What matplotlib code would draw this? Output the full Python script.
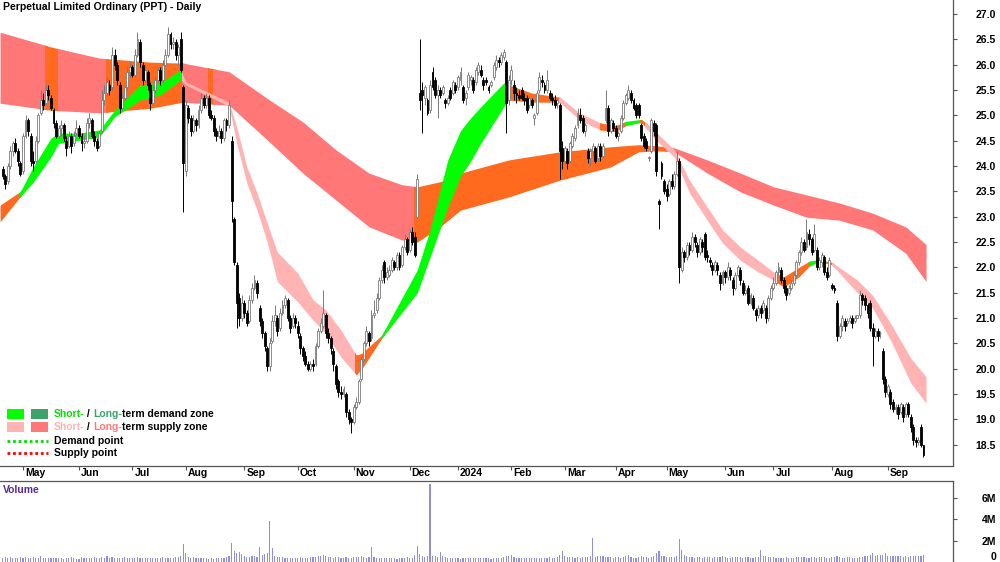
import numpy as np
import matplotlib
matplotlib.use('Agg')
import matplotlib.pyplot as plt
from matplotlib.patches import Rectangle
from matplotlib.transforms import blended_transform_factory

plt.rcParams['font.family'] = ['Liberation Sans', 'DejaVu Sans']

# daily candles, trading-day index 0..362 (Apr 2023 - Sep 2024)
opens = [
    23.95, 23.8, 23.7, 24.0, 24.3, 24.45, 24.3, 24.05, 23.9, 24.6,
    24.9, 24.6, 24.1, 24.1, 24.5, 25.05, 25.3, 25.25, 25.5, 25.35,
    25.1, 24.85, 24.6, 24.75, 24.8, 24.5, 24.4, 24.6, 24.45, 24.65,
    24.75, 24.6, 24.45, 24.5, 24.85, 24.9, 24.6, 24.5, 24.4, 24.7,
    25.3, 25.45, 25.6, 25.55, 26.2, 26.0, 25.6, 25.15, 25.35, 25.55,
    25.85, 25.95, 25.8, 26.2, 26.45, 26.0, 25.7, 25.85, 25.6, 25.25,
    25.5, 25.7, 25.9, 25.7, 26.0, 26.2, 26.6, 26.4, 26.45, 26.2,
    26.5, 25.55, 23.9, 25.15, 24.95, 24.7, 24.9, 24.8, 25.1, 25.35,
    25.2, 25.35, 25.0, 24.95, 24.7, 24.6, 24.7, 24.55, 24.9, 24.8,
    24.5, 22.95, 22.05, 21.4, 21.0, 21.3, 21.1, 20.95, 21.35, 21.6,
    21.7, 21.2, 20.95, 20.7, 20.4, 20.05, 20.55, 20.95, 21.0, 20.8,
    21.1, 21.25, 21.35, 21.0, 20.85, 21.0, 20.85, 20.65, 20.4, 20.25,
    20.1, 20.0, 20.1, 20.1, 20.45, 20.75, 20.85, 21.05, 20.7, 20.6,
    20.35, 20.05, 19.75, 19.55, 19.5, 19.5, 19.15, 19.0, 18.95, 19.25,
    19.35, 19.8, 20.2, 20.5, 20.7, 20.6, 21.05, 21.15, 21.4, 21.75,
    22.1, 21.8, 21.85, 21.95, 22.1, 22.0, 22.25, 22.05, 22.4, 22.55,
    22.35, 22.7, 22.6, 23.0, 25.45, 25.5, 25.35, 25.3, 25.1, 25.85,
    25.7, 25.4, 25.5, 25.45, 25.3, 25.25, 25.5, 25.45, 25.6, 25.55,
    25.7, 25.55, 25.35, 25.55, 25.7, 25.7, 25.65, 25.85, 25.9, 25.7,
    25.7, 25.55, 25.6, 25.75, 25.95, 26.1, 26.05, 26.15, 26.05, 25.3,
    25.7, 25.6, 25.45, 25.4, 25.5, 25.35, 25.35, 25.2, 25.3, 24.95,
    25.05, 25.5, 25.7, 25.6, 25.5, 25.45, 25.35, 25.3, 25.25, 25.2,
    24.35, 24.1, 24.3, 24.1, 24.4, 24.55, 24.8, 25.0, 24.95, 24.7,
    24.3, 24.15, 24.3, 24.35, 24.15, 24.4, 24.2, 24.9, 25.15, 24.7,
    24.85, 24.75, 24.6, 24.7, 24.95, 25.25, 25.35, 25.45, 25.3, 25.2,
    25.2, 24.8, 24.6, 24.5, 24.15, 24.3, 24.85, 24.8, 23.3, 24.05,
    23.7, 23.55, 23.45, 23.7, 23.6, 23.85, 24.1, 21.95, 22.3, 22.2,
    22.45, 22.35, 22.6, 22.45, 22.3, 22.5, 22.65, 22.25, 22.15, 22.05,
    21.95, 22.05, 21.85, 21.7, 21.9, 21.8, 21.95, 21.75, 21.6, 21.85,
    21.95, 21.7, 21.5, 21.6, 21.3, 21.4, 21.15, 21.05, 21.2, 21.15,
    21.2, 21.0, 21.4, 21.6, 21.7, 21.9, 21.95, 21.75, 21.6, 21.5,
    21.6, 21.7, 21.85, 22.1, 22.3, 22.5, 22.4, 22.65, 22.55, 22.35,
    22.35, 22.0, 22.1, 22.2, 21.9, 21.85, 21.65, 21.6, 21.3, 20.65,
    20.85, 20.95, 20.9, 20.95, 21.0, 20.95, 21.0, 21.05, 21.45, 21.4,
    21.25, 21.3, 20.8, 20.65, 20.75, 20.7, 20.35, 19.8, 19.5, 19.55,
    19.35, 19.2, 19.25, 19.15, 19.25, 19.1, 19.3, 19.05, 18.85, 18.6,
    18.55, 18.85, 18.5,
]
highs = [
    24.0, 23.85, 24.05, 24.4, 24.5, 24.55, 24.35, 24.1, 24.65, 25.0,
    24.95, 24.65, 24.3, 24.6, 25.05, 25.5, 25.45, 25.6, 25.6, 25.4,
    25.15, 24.9, 24.8, 24.9, 24.85, 24.6, 24.7, 24.65, 24.7, 24.9,
    24.8, 24.65, 24.6, 24.95, 25.05, 24.95, 24.7, 24.55, 24.7, 25.5,
    25.6, 25.75, 25.7, 26.35, 26.3, 26.05, 25.65, 25.45, 25.6, 25.95,
    26.05, 26.0, 26.3, 26.65, 26.5, 26.05, 26.0, 25.9, 25.65, 25.6,
    25.75, 25.95, 25.95, 26.1, 26.3, 26.75, 26.65, 26.55, 26.5, 26.4,
    26.65, 25.6, 25.3, 25.2, 25.0, 25.0, 24.95, 25.2, 25.45, 25.4,
    25.45, 25.4, 25.1, 25.0, 24.75, 24.8, 24.75, 24.95, 24.95, 25.3,
    24.6, 23.0, 22.1, 21.5, 21.45, 21.35, 21.15, 21.45, 21.7, 21.85,
    21.75, 21.25, 21.0, 20.75, 20.45, 20.6, 21.05, 21.25, 21.05, 21.2,
    21.35, 21.45, 21.4, 21.05, 21.1, 21.05, 20.95, 20.7, 20.45, 20.35,
    20.15, 20.15, 20.2, 20.5, 20.8, 21.0, 21.55, 21.1, 20.8, 20.65,
    20.4, 20.1, 19.8, 19.65, 19.65, 19.55, 19.2, 19.05, 19.3, 19.45,
    19.8, 20.25, 20.55, 20.85, 20.75, 21.15, 21.35, 21.5, 21.8, 22.05,
    22.15, 22.0, 22.05, 22.2, 22.15, 22.3, 22.3, 22.45, 22.65, 22.6,
    22.75, 22.8, 22.7, 23.85, 26.5, 25.65, 25.6, 25.35, 25.7, 25.95,
    25.75, 25.6, 25.55, 25.6, 25.35, 25.4, 25.55, 25.7, 25.65, 25.8,
    25.95, 25.6, 25.5, 25.85, 25.8, 25.75, 25.95, 26.05, 26.0, 25.75,
    25.75, 25.6, 25.7, 26.05, 26.2, 26.15, 26.25, 26.3, 26.1, 25.8,
    26.0, 25.7, 25.55, 25.5, 25.55, 25.45, 25.4, 25.4, 25.35, 25.05,
    25.5, 25.85, 25.8, 25.65, 25.9, 25.5, 25.45, 25.4, 25.35, 25.25,
    24.5, 24.4, 24.35, 24.5, 24.65, 24.8, 25.15, 25.15, 25.0, 24.85,
    24.35, 24.35, 24.45, 24.4, 24.45, 24.45, 24.45, 25.5, 25.2, 24.95,
    24.9, 24.8, 24.7, 25.0, 25.3, 25.45, 25.6, 25.5, 25.35, 25.25,
    25.25, 24.85, 24.65, 24.55, 24.2, 24.95, 24.9, 24.85, 23.35, 24.1,
    23.75, 23.65, 23.75, 23.85, 23.9, 24.3, 24.15, 22.4, 22.35, 22.5,
    22.5, 22.7, 22.65, 22.5, 22.6, 22.55, 22.7, 22.35, 22.2, 22.1,
    22.15, 22.1, 21.9, 21.95, 21.95, 22.1, 22.0, 21.8, 21.9, 22.05,
    22.0, 21.75, 21.65, 21.65, 21.5, 21.45, 21.2, 21.25, 21.25, 21.35,
    21.25, 21.45, 21.65, 21.8, 21.95, 22.1, 22.0, 21.8, 21.65, 21.65,
    21.75, 21.9, 22.15, 22.35, 22.6, 22.55, 22.95, 22.75, 22.6, 22.85,
    22.4, 22.2, 22.3, 22.25, 22.0, 22.2, 21.7, 21.65, 21.35, 20.9,
    21.05, 21.0, 21.0, 21.05, 21.05, 21.05, 21.05, 21.55, 21.5, 21.45,
    21.3, 21.35, 20.9, 20.8, 20.8, 20.75, 20.4, 19.85, 19.7, 19.6,
    19.4, 19.3, 19.3, 19.35, 19.3, 19.35, 19.35, 19.1, 18.9, 18.65,
    18.65, 18.9, 18.5,
]
lows = [
    23.75, 23.55, 23.65, 23.95, 24.2, 24.25, 24.0, 23.8, 23.85, 24.55,
    24.6, 24.0, 23.9, 24.05, 24.45, 25.0, 25.1, 25.2, 25.3, 25.1,
    24.75, 24.55, 24.55, 24.6, 24.5, 24.2, 24.35, 24.25, 24.4, 24.6,
    24.55, 24.3, 24.35, 24.45, 24.75, 24.55, 24.4, 24.3, 24.35, 24.65,
    25.2, 25.4, 25.4, 25.5, 25.9, 25.6, 25.05, 25.1, 25.3, 25.5,
    25.75, 25.75, 25.75, 26.15, 25.95, 25.6, 25.65, 25.5, 25.1, 25.2,
    25.45, 25.65, 25.6, 25.65, 25.95, 26.15, 26.3, 26.3, 26.1, 26.0,
    25.85, 23.1, 23.8, 24.85, 24.6, 24.65, 24.7, 24.75, 25.05, 25.15,
    25.15, 24.95, 24.9, 24.6, 24.5, 24.55, 24.45, 24.5, 24.7, 24.75,
    22.9, 22.05, 20.8, 20.85, 20.95, 21.0, 20.85, 20.9, 21.3, 21.55,
    21.4, 20.85, 20.6, 20.35, 19.95, 19.95, 20.5, 20.85, 20.65, 20.75,
    21.05, 21.2, 20.95, 20.7, 20.8, 20.8, 20.6, 20.3, 20.15, 20.05,
    19.95, 19.95, 19.95, 20.05, 20.4, 20.7, 20.8, 20.6, 20.5, 20.3,
    19.95, 19.6, 19.45, 19.4, 19.45, 19.05, 18.9, 18.73, 18.9, 19.2,
    19.3, 19.75, 20.15, 20.45, 20.45, 20.55, 21.0, 21.1, 21.35, 21.7,
    21.7, 21.75, 21.8, 21.9, 21.95, 21.95, 21.95, 22.0, 22.35, 22.25,
    22.3, 22.45, 22.2, 22.95, 25.1, 24.65, 25.2, 25.0, 25.05, 25.5,
    25.35, 24.95, 25.35, 25.4, 25.15, 25.2, 25.3, 25.4, 25.45, 25.5,
    25.6, 25.25, 25.2, 25.5, 25.6, 25.45, 25.6, 25.8, 25.75, 25.5,
    25.6, 25.45, 25.55, 25.7, 25.9, 25.95, 26.0, 26.1, 24.65, 25.2,
    25.6, 25.3, 25.25, 25.3, 25.3, 25.2, 25.05, 25.15, 25.15, 24.8,
    25.0, 25.45, 25.55, 25.45, 25.45, 25.3, 25.2, 25.15, 25.15, 23.75,
    23.95, 24.05, 23.95, 24.05, 24.35, 24.5, 24.75, 24.85, 24.65, 24.6,
    24.05, 24.0, 24.2, 24.05, 24.1, 24.1, 24.15, 24.85, 24.6, 24.65,
    24.7, 24.55, 24.5, 24.65, 24.9, 25.2, 25.3, 25.25, 25.1, 24.95,
    24.95, 24.5, 24.35, 24.3, 24.1, 24.25, 24.6, 23.8, 22.75, 23.75,
    23.45, 23.3, 23.4, 23.55, 23.55, 23.8, 21.7, 21.9, 22.1, 22.15,
    22.25, 22.3, 22.4, 22.2, 22.25, 22.3, 22.15, 22.1, 22.0, 21.85,
    21.9, 21.85, 21.55, 21.65, 21.7, 21.75, 21.75, 21.45, 21.55, 21.8,
    21.65, 21.45, 21.45, 21.25, 21.25, 21.15, 20.95, 21.0, 21.0, 21.1,
    20.9, 20.95, 21.35, 21.55, 21.65, 21.85, 21.7, 21.5, 21.35, 21.45,
    21.55, 21.65, 21.8, 22.05, 22.25, 22.3, 22.35, 22.45, 22.25, 22.3,
    21.95, 21.95, 22.0, 21.85, 21.75, 21.8, 21.55, 21.5, 20.55, 20.6,
    20.75, 20.75, 20.85, 20.9, 20.8, 20.9, 21.0, 21.0, 21.25, 21.15,
    21.0, 20.75, 20.05, 20.6, 20.55, 20.6, 19.7, 19.45, 19.45, 19.2,
    19.15, 19.1, 19.0, 19.1, 18.95, 19.05, 19.05, 18.75, 18.5, 18.45,
    18.5, 18.45, 18.25,
]
closes = [
    23.8, 23.65, 24.0, 24.3, 24.45, 24.3, 24.1, 23.85, 24.6, 24.9,
    24.7, 24.1, 24.05, 24.5, 25.0, 25.3, 25.2, 25.5, 25.4, 25.15,
    24.85, 24.6, 24.75, 24.8, 24.55, 24.35, 24.6, 24.4, 24.6, 24.75,
    24.6, 24.45, 24.5, 24.85, 24.95, 24.6, 24.5, 24.35, 24.65, 25.3,
    25.45, 25.65, 25.5, 26.2, 26.0, 25.7, 25.15, 25.35, 25.55, 25.85,
    25.95, 25.8, 26.2, 26.5, 26.05, 25.7, 25.9, 25.6, 25.25, 25.5,
    25.7, 25.9, 25.7, 26.0, 26.2, 26.6, 26.4, 26.45, 26.2, 26.35,
    25.9, 24.05, 25.2, 24.95, 24.7, 24.9, 24.8, 25.1, 25.35, 25.2,
    25.35, 25.0, 24.95, 24.7, 24.6, 24.7, 24.55, 24.9, 24.8, 25.2,
    23.3, 22.1, 21.3, 21.0, 21.3, 21.1, 20.9, 21.35, 21.6, 21.75,
    21.5, 20.95, 20.7, 20.45, 20.05, 20.5, 20.95, 21.05, 20.75, 21.1,
    21.25, 21.4, 21.0, 20.8, 21.0, 20.9, 20.7, 20.4, 20.25, 20.1,
    20.0, 20.1, 20.05, 20.45, 20.75, 20.9, 21.1, 20.7, 20.6, 20.4,
    20.1, 19.7, 19.55, 19.5, 19.6, 19.15, 19.0, 18.95, 19.25, 19.35,
    19.75, 20.2, 20.5, 20.75, 20.55, 21.05, 21.1, 21.4, 21.75, 21.95,
    21.8, 21.9, 21.95, 22.15, 22.0, 22.25, 22.0, 22.4, 22.55, 22.3,
    22.7, 22.5, 22.25, 23.75, 25.3, 25.4, 25.55, 25.05, 25.6, 25.55,
    25.4, 25.5, 25.4, 25.55, 25.25, 25.35, 25.35, 25.65, 25.5, 25.75,
    25.85, 25.3, 25.45, 25.8, 25.75, 25.5, 25.9, 26.0, 25.8, 25.6,
    25.65, 25.5, 25.65, 26.0, 26.1, 26.05, 26.2, 26.25, 25.25, 25.7,
    25.9, 25.45, 25.4, 25.35, 25.35, 25.3, 25.1, 25.35, 25.2, 25.0,
    25.45, 25.75, 25.65, 25.5, 25.7, 25.35, 25.3, 25.2, 25.3, 24.3,
    24.1, 24.35, 24.05, 24.45, 24.6, 24.75, 25.05, 24.9, 24.7, 24.8,
    24.15, 24.3, 24.4, 24.1, 24.4, 24.2, 24.4, 25.15, 24.7, 24.9,
    24.75, 24.6, 24.65, 24.95, 25.25, 25.4, 25.5, 25.3, 25.15, 25.0,
    25.0, 24.55, 24.4, 24.35, 24.18, 24.9, 24.7, 23.9, 23.25, 23.8,
    23.5, 23.4, 23.7, 23.6, 23.85, 24.1, 22.0, 22.3, 22.2, 22.45,
    22.35, 22.6, 22.5, 22.3, 22.55, 22.4, 22.2, 22.2, 22.1, 21.95,
    22.1, 21.95, 21.7, 21.9, 21.8, 22.0, 21.85, 21.6, 21.85, 22.0,
    21.75, 21.5, 21.55, 21.3, 21.45, 21.2, 21.05, 21.2, 21.1, 21.3,
    21.0, 21.4, 21.6, 21.7, 21.9, 22.0, 21.75, 21.6, 21.45, 21.6,
    21.7, 21.85, 22.1, 22.3, 22.5, 22.35, 22.7, 22.55, 22.3, 22.65,
    22.0, 22.15, 22.25, 21.9, 21.8, 22.15, 21.6, 21.55, 20.65, 20.85,
    21.0, 20.85, 20.95, 21.0, 20.9, 21.0, 21.05, 21.45, 21.35, 21.25,
    21.1, 20.8, 20.65, 20.75, 20.65, 20.7, 19.8, 19.55, 19.65, 19.3,
    19.2, 19.25, 19.1, 19.3, 19.05, 19.3, 19.1, 18.85, 18.6, 18.55,
    18.6, 18.5, 18.3,
]
# volume in millions
volumes = [
    0.35, 0.45, 0.4, 0.5, 0.38, 0.42, 0.36, 0.44, 0.4, 0.48,
    0.42, 0.38, 0.45, 0.4, 0.36, 0.55, 0.42, 0.38, 0.4, 0.35,
    0.33, 0.4, 0.36, 0.42, 0.3, 0.38, 0.35, 0.45, 0.4, 0.3,
    0.32, 0.5, 0.36, 0.38, 0.42, 0.35, 0.48, 0.4, 0.36, 0.45,
    0.38, 0.52, 0.4, 0.45, 0.38, 0.42, 0.36, 0.4, 0.5, 0.38,
    0.35, 0.42, 0.38, 0.45, 0.4, 0.36, 0.34, 0.4, 0.38, 0.42,
    0.36, 0.4, 0.38, 0.44, 0.4, 0.42, 0.38, 0.4, 0.45, 0.5,
    0.55, 1.65, 0.85, 0.5, 0.42, 0.45, 0.38, 0.4, 0.35, 0.36,
    0.38, 0.32, 0.35, 0.3, 0.36, 0.4, 0.38, 0.42, 0.5, 0.55,
    1.75, 1.05, 0.85, 0.95, 0.75, 0.6, 0.5, 0.45, 0.55, 0.6,
    0.5, 1.4, 0.7, 0.75, 0.85, 3.9, 1.35, 0.55, 0.5, 0.48,
    0.45, 0.4, 0.42, 0.36, 0.38, 0.34, 0.35, 0.45, 0.42, 0.38,
    0.4, 0.5, 0.45, 0.48, 0.55, 0.6, 0.65, 0.55, 0.5, 0.45,
    0.42, 0.45, 0.5, 0.4, 0.38, 0.45, 0.42, 0.4, 0.48, 0.45,
    0.5, 0.55, 0.45, 0.4, 0.5, 1.4, 0.45, 0.4, 0.38, 0.42,
    0.36, 0.4, 0.38, 0.35, 0.4, 0.32, 0.36, 0.38, 0.4, 0.45,
    0.42, 0.4, 0.7, 1.55, 0.75, 0.55, 0.5, 0.6, 7.3, 0.6,
    0.55, 0.5, 0.9, 0.55, 0.45, 0.4, 0.42, 0.38, 0.35, 0.36,
    0.3, 0.38, 0.35, 0.4, 0.36, 0.38, 0.33, 0.35, 0.4, 0.36,
    0.38, 0.35, 0.32, 0.36, 0.38, 0.4, 0.42, 0.45, 0.6, 0.55,
    0.65, 0.45, 0.4, 0.35, 0.38, 0.36, 0.4, 0.35, 0.38, 0.4,
    0.36, 0.4, 0.38, 0.35, 0.38, 0.45, 0.4, 0.42, 0.5, 0.7,
    1.05, 0.55, 0.5, 0.45, 0.48, 0.4, 0.45, 0.42, 0.48, 0.5,
    0.45, 0.55, 2.3, 0.5, 0.55, 0.6, 0.58, 0.5, 0.45, 0.5,
    0.42, 0.45, 0.5, 0.4, 0.45, 0.55, 0.62, 0.45, 0.42, 0.4,
    0.48, 0.55, 0.45, 0.5, 0.4, 0.45, 0.55, 0.8, 1.05, 0.6,
    0.55, 0.5, 0.48, 0.45, 0.5, 0.55, 2.2, 1.1, 0.7, 0.55,
    0.5, 0.45, 0.42, 0.48, 0.45, 0.4, 0.45, 0.5, 0.45, 0.42,
    0.48, 0.45, 0.5, 0.52, 0.45, 0.4, 0.42, 0.45, 0.48, 0.5,
    0.45, 0.42, 0.5, 0.45, 0.4, 0.42, 0.48, 0.45, 1.1, 0.55,
    0.6, 0.5, 0.48, 0.45, 0.4, 0.42, 0.38, 0.4, 0.45, 0.42,
    0.4, 0.38, 0.45, 0.48, 0.5, 0.45, 0.42, 0.4, 0.45, 0.48,
    0.42, 0.45, 0.5, 0.45, 0.42, 0.4, 0.45, 0.5, 0.55, 0.45,
    0.42, 0.4, 0.45, 0.48, 0.42, 0.4, 0.38, 0.45, 0.5, 0.55,
    0.6, 0.65, 0.85, 0.6, 0.65, 0.62, 0.7, 0.85, 0.6, 0.55,
    0.58, 0.52, 0.55, 0.6, 0.5, 0.52, 0.5, 0.55, 0.6, 0.58,
    0.55, 0.6, 0.65,
]

# month ticks (index of first trading day of each month)
month_idx = [8, 30, 51, 72, 95, 116, 138, 160, 179, 200, 221, 241, 261, 284, 303, 326, 348]
month_labels = ['May', 'Jun', 'Jul', 'Aug', 'Sep', 'Oct', 'Nov', 'Dec', '2024',
                'Feb', 'Mar', 'Apr', 'May', 'Jun', 'Jul', 'Aug', 'Sep']

# long-term zone edges, read at sample days
long_idx = [-1, 19, 38, 58, 71, 89, 105, 118, 131, 144, 157, 163, 172, 180, 199, 219, 239, 250,
            257, 264, 277, 290, 303, 316, 329, 342, 355, 363]
long_top = [26.64, 26.35, 26.13, 26.05, 26.03, 25.86, 25.3, 24.87, 24.32, 23.86, 23.63, 23.59,
            23.69, 23.86, 24.12, 24.28, 24.38, 24.42, 24.4, 24.36, 24.12, 23.86, 23.59, 23.43,
            23.27, 23.07, 22.8, 22.45]
long_bot = [25.24, 25.10, 25.05, 25.14, 25.26, 25.2, 24.47, 23.86, 23.33, 22.80, 22.54, 22.5,
            22.8, 23.13, 23.39, 23.72, 23.98, 24.28, 24.3, 24.28, 23.86, 23.49, 23.23, 22.99,
            22.93, 22.74, 22.28, 21.72]

# short-term zone edges
short_idx = [-1, 7, 12, 19, 22, 30, 38, 44, 54, 62, 70, 72, 89, 92, 96, 100, 104, 108, 116, 122,
             127, 133, 139, 141, 149, 163, 168, 175, 180, 184, 188, 197, 199, 208, 219, 227, 235,
             241, 245, 251, 253, 256, 264, 270, 277, 283, 290, 297, 303, 307, 313, 317, 319, 322,
             326, 336, 342, 349, 357, 363]
short_top = [23.23, 23.5, 23.98, 24.55, 24.65, 24.65, 24.71, 25.1, 25.6, 25.64, 25.9, 25.66,
             25.26, 24.77, 23.98, 23.47, 22.87, 22.3, 21.89, 21.36, 21.16, 20.76, 20.27, 20.3,
             20.66, 21.95, 22.74, 24.12, 24.7, 24.95, 25.17, 25.64, 25.6, 25.44, 25.36, 25.04,
             24.85, 24.8, 24.88, 24.92, 24.85, 24.71, 24.32, 23.72, 23.19, 22.74, 22.4, 22.14,
             21.91, 21.81, 22.0, 22.12, 22.14, 22.14, 22.1, 21.75, 21.45, 20.9, 20.21, 19.84]
short_bot = [22.9, 23.4, 23.68, 24.18, 24.45, 24.51, 24.57, 24.97, 25.3, 25.4, 25.7, 25.6, 25.18,
             24.45, 23.66, 23.13, 22.5, 21.72, 21.32, 20.96, 20.7, 20.23, 19.88, 19.98, 20.6,
             21.5, 22.2, 23.19, 23.8, 24.1, 24.45, 25.17, 25.3, 25.26, 25.26, 24.9, 24.71, 24.68,
             24.8, 24.86, 24.75, 24.55, 24.18, 23.47, 22.93, 22.48, 22.14, 21.91, 21.75, 21.61,
             21.81, 22.02, 22.07, 22.1, 22.05, 21.5, 21.2, 20.57, 19.72, 19.32]

GREEN = '#00FF00'
DKGREEN = '#3DA36C'
PINK = '#FFB3B3'
RED = '#FF7777'
ORANGE = '#FF6A1F'

long_segs = [(-2, 17, RED), (17, 22, ORANGE), (22, 41, RED), (41, 71, ORANGE), (71, 81, RED),
             (81, 83, ORANGE), (83, 162, RED), (162, 261, ORANGE), (261, 365, RED)]
short_segs = [(-2, 7, ORANGE), (7, 71, GREEN), (71, 139, PINK), (139, 149.5, ORANGE),
              (149.5, 198, GREEN), (198, 219, ORANGE), (219, 235, PINK), (235, 245, ORANGE),
              (245, 251, GREEN), (251, 253, ORANGE), (253, 304.5, PINK), (304.5, 317.5, ORANGE),
              (317.5, 322, GREEN), (322, 326.5, ORANGE), (326.5, 365, PINK)]


def draw_band(ax, idx, top, bot, segs, z):
    for a, b, col in segs:
        poly = ax.fill_between(idx, bot, top, color=col, lw=0, zorder=z)
        poly.set_clip_path(Rectangle((a - 0.3, 0), b - a + 0.6, 100, transform=ax.transData))


fig = plt.figure(figsize=(10, 5.62), dpi=100)
ax = fig.add_axes([0, 1 - 466 / 562, 0.953, 466 / 562])
axv = fig.add_axes([0, 0, 0.953, 81 / 562])

days = np.arange(len(closes))
o = np.array(opens)
h = np.array(highs)
l = np.array(lows)
c = np.array(closes)
up = c >= o

draw_band(ax, long_idx, long_top, long_bot, long_segs, 1)
draw_band(ax, short_idx, short_top, short_bot, short_segs, 2)

ax.vlines(days[up], l[up], h[up], color='#7a7a7a', lw=0.7, zorder=3)
ax.vlines(days[~up], l[~up], h[~up], color='black', lw=0.7, zorder=3)
ax.bar(days[up], c[up] - o[up], bottom=o[up], width=0.75, color='white',
       edgecolor='#7a7a7a', lw=0.6, zorder=4)
ax.bar(days[~up], o[~up] - c[~up], bottom=c[~up], width=0.75, color='black',
       edgecolor='black', lw=0.6, zorder=4)

ax.set_xlim(-1.04, 373.6)
ax.set_ylim(18.08, 27.276)
for s in ['top', 'left']:
    ax.spines[s].set_visible(False)
for s in ['right', 'bottom']:
    ax.spines[s].set_color('#555555')
    ax.spines[s].set_linewidth(0.9)
ax.yaxis.tick_right()
yt = np.arange(18.5, 27.01, 0.5)
ax.set_yticks(yt)
ax.set_yticklabels([f'{v:.1f}' for v in yt])
ax.tick_params(axis='y', direction='out', length=3, width=0.8, color='#555555', pad=28,
               labelsize=7.5)
for lab in ax.get_yticklabels():
    lab.set_horizontalalignment('right')
    lab.set_fontweight('bold')
ax.set_xticks(month_idx)
ax.set_xticklabels([])
ax.tick_params(axis='x', direction='out', length=3, width=0.8, color='#555555')
trans = blended_transform_factory(ax.transData, ax.transAxes)
for m, lab in zip(month_idx, month_labels):
    ax.text(m + 0.8, -0.016, lab, transform=trans, ha='left', va='center', fontsize=7.5,
            fontweight='bold', clip_on=False)

# volume panel
axv.bar(days, volumes, width=0.45, color='#9090DA', lw=0)
axv.set_xlim(-1.04, 373.6)
axv.set_ylim(0, 7.62)
for s in ['bottom', 'left']:
    axv.spines[s].set_visible(False)
for s in ['right', 'top']:
    axv.spines[s].set_color('#555555')
    axv.spines[s].set_linewidth(0.9)
axv.set_xticks([])
axv.yaxis.tick_right()
axv.set_yticks([0, 2, 4, 6])
axv.set_yticklabels(['0', '2M', '4M', '6M'])
axv.tick_params(axis='y', direction='out', length=3, width=0.8, color='#555555', pad=28,
                labelsize=7.5)
for lab in axv.get_yticklabels():
    lab.set_horizontalalignment('right')
    lab.set_fontweight('bold')
axv.get_yticklabels()[0].set_verticalalignment('bottom')

# overlay in pixel coordinates for title and legend
ov = fig.add_axes([0, 0, 1, 1])
ov.set_xlim(0, 1000)
ov.set_ylim(562, 0)
ov.axis('off')

ov.text(3, 7, 'Perpetual Limited Ordinary (PPT) - Daily', fontsize=7.5, fontweight='bold',
        va='center', ha='left')
ov.text(3, 490, 'Volume', fontsize=7.5, fontweight='bold', color='#5C2A91', va='center')

ov.add_patch(Rectangle((7, 409), 17, 10, color=GREEN, lw=0))
ov.add_patch(Rectangle((31, 409), 17, 10, color=DKGREEN, lw=0))
ov.add_patch(Rectangle((7, 422), 17, 10, color=PINK, lw=0))
ov.add_patch(Rectangle((31, 422), 17, 10, color=RED, lw=0))
ov.plot([7, 48], [441, 441], ls=(0, (1, 1)), color='#00DD00', lw=2)
ov.plot([7, 48], [453, 453], ls=(0, (1, 1)), color='#FF0000', lw=2)


def multi_text(x, y, parts):
    t = ov.text(x, y, parts[0][0], color=parts[0][1], fontsize=7.5, fontweight='bold',
                va='center', ha='left')
    for s, col in parts[1:]:
        t = ov.annotate(s, xy=(1, 0), xycoords=t, va='bottom', ha='left', color=col,
                        fontsize=7.5, fontweight='bold')


multi_text(54, 414, [('Short-', '#00E000'), (' / ', 'black'), ('Long-', DKGREEN),
                     ('term demand zone', 'black')])
multi_text(54, 427, [('Short-', PINK), (' / ', 'black'), ('Long-', RED),
                     ('term supply zone', 'black')])
ov.text(54, 441, 'Demand point', fontsize=7.5, fontweight='bold', va='center')
ov.text(54, 453, 'Supply point', fontsize=7.5, fontweight='bold', va='center')

fig.savefig('out.png', dpi=100)
